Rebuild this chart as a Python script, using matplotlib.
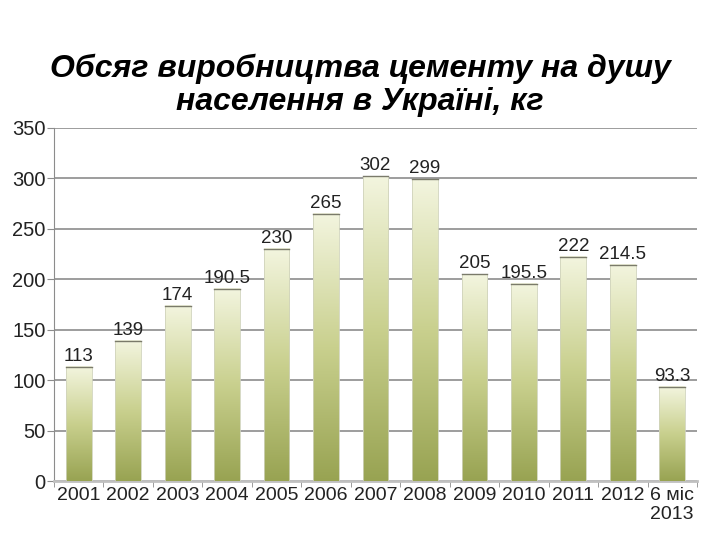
import numpy as np
import matplotlib
matplotlib.use('Agg')
import matplotlib.pyplot as plt
from matplotlib.colors import LinearSegmentedColormap

plt.rcParams['font.family'] = ['Liberation Sans', 'DejaVu Sans']

years = ['2001', '2002', '2003', '2004', '2005', '2006', '2007', '2008',
         '2009', '2010', '2011', '2012', '6 міс\n2013']
values = [113, 139, 174, 190.5, 230, 265, 302, 299, 205, 195.5, 222, 214.5, 93.3]
labels = ['113', '139', '174', '190.5', '230', '265', '302', '299',
          '205', '195.5', '222', '214.5', '93.3']

fig = plt.figure(figsize=(7.2, 5.4), dpi=100)
ax = fig.add_axes([0.075, 0.109, 0.893, 0.654])

cmap = LinearSegmentedColormap.from_list('olive', ['#98a352', '#c9d08e', '#f3f5df'])
grad = np.linspace(0, 1, 256).reshape(-1, 1)
w = 0.52
x = np.arange(len(values))

for i, v in enumerate(values):
    ax.imshow(grad, cmap=cmap, origin='lower', aspect='auto',
              extent=[x[i] - w / 2, x[i] + w / 2, 0, v], zorder=3)
    ax.bar(x[i], v, width=w, color='none', edgecolor='#d0d3bc', linewidth=0.6, zorder=4)
    ax.plot([x[i] - w / 2, x[i] + w / 2], [v, v], color='#7a7a6a', lw=1.0, zorder=5)
    ax.text(x[i], v + 2, labels[i], ha='center', va='bottom', fontsize=13.5,
            color='#222222', zorder=6)

ax.set_xlim(-0.5, len(values) - 0.5)
ax.set_ylim(0, 350)
ax.set_yticks(range(0, 351, 50))
ax.yaxis.grid(True, color='#8c8c8c', lw=1.2, zorder=0)
ax.set_axisbelow(True)

ax.set_xticks(x)
ax.set_xticklabels(years, fontsize=14, va='top', color='#222222')
ax.set_xticks(np.arange(-0.5, len(values), 1), minor=True)
ax.tick_params(axis='x', which='major', length=0, pad=4)
ax.tick_params(axis='x', which='minor', length=4, color='#8c8c8c')
ax.tick_params(axis='y', labelsize=14.5, length=5, color='#8c8c8c', pad=1,
               labelcolor='#222222')

for s in ['top', 'right']:
    ax.spines[s].set_visible(False)
ax.spines['left'].set_color('#8c8c8c')
ax.spines['bottom'].set_color('#c0c0c0')
ax.spines['bottom'].set_linewidth(2)

fig.text(0.5, 0.842, 'Обсяг виробництва цементу на душу\nнаселення в Україні, кг',
         ha='center', va='center', fontsize=23, fontweight='bold', style='italic',
         linespacing=1.15)

fig.savefig('out.png', dpi=100)
